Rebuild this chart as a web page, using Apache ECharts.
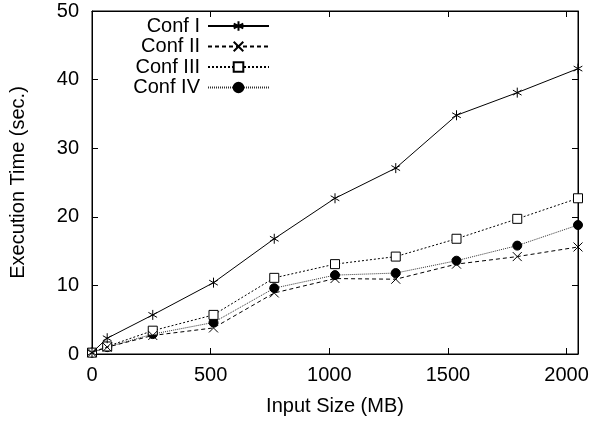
<!DOCTYPE html>
<html>
<head>
<meta charset="utf-8">
<script src="https://cdn.jsdelivr.net/npm/echarts@6/dist/echarts.min.js"></script>
<style>
html,body{margin:0;padding:0;background:#fff;}
#chart{width:592px;height:423px;}
</style>
</head>
<body>
<div id="chart"></div>
<script>
const inputSizes = [0, 64, 256, 512, 768, 1024, 1280, 1536, 1792, 2048];
const seriesNames = ['Conf I', 'Conf II', 'Conf III', 'Conf IV'];
const confI   = [0.2, 2.3, 5.7, 10.4, 16.8, 22.7, 27.1, 34.8, 38.1, 41.6];
const confII  = [0.2, 1.0, 2.7, 3.8, 8.9, 11.0, 10.9, 13.1, 14.2, 15.6];
const confIII = [0.2, 1.1, 3.4, 5.7, 11.1, 13.1, 14.2, 16.8, 19.7, 22.7];
const confIV  = [0.2, 1.0, 2.9, 4.6, 9.6, 11.5, 11.8, 13.6, 15.8, 18.8];
const xTicks = [0, 500, 1000, 1500, 2000];
const yTicks = [0, 10, 20, 30, 40, 50];

const FONT = "'Liberation Sans', Arial, Helvetica, sans-serif";
const pair = (vals) => inputSizes.map((x, i) => [x, vals[i]]);

const ASTERISK = 'path://M0,-5L0,5M-4.33,-2.5L4.33,2.5M-4.33,2.5L4.33,-2.5';
const CROSS = 'path://M-5,-5L5,5M-5,5L5,-5';

const styles = [
  {symbol: ASTERISK, size: 10, line: 'solid', lw: 1, fill: 'none'},
  {symbol: CROSS, size: 9, line: [4, 3], lw: 1, fill: 'none'},
  {symbol: 'rect', size: 9, line: [2, 2], lw: 1, fill: '#fff'},
  {symbol: 'circle', size: 9, line: [1, 1], lw: 1, fill: '#000'}
];
const values = [confI, confII, confIII, confIV];

const series = seriesNames.map((name, i) => ({
  name: name,
  type: 'line',
  xAxisIndex: 0,
  yAxisIndex: 0,
  data: pair(values[i]),
  symbol: styles[i].symbol,
  symbolSize: styles[i].size,
  symbolKeepAspect: true,
  showAllSymbol: true,
  animation: false,
  lineStyle: {color: i === 3 ? '#333' : '#000', width: styles[i].lw, type: styles[i].line},
  itemStyle: {color: styles[i].fill, borderColor: '#000', borderWidth: 1, opacity: 1},
  emphasis: {disabled: true},
  z: 10 - i
}));

const rowCenters = [26, 46.5, 67, 87.5];
const legends = seriesNames.map((name, i) => ({
  data: [name],
  orient: 'horizontal',
  align: 'right',
  right: 322,
  top: rowCenters[i] - 10,
  padding: 0,
  itemWidth: 61,
  itemHeight: 12,
  selectedMode: false,
  textStyle: {fontFamily: FONT, fontSize: 20, color: '#000', lineHeight: 20, padding: [0, 3, 0, 0]}
}));

const xLabel = (v) => (xTicks.indexOf(v) >= 0 ? String(v) : '');
const yLabel = (v) => (yTicks.indexOf(v) >= 0 ? String(v) : '');

const tickStyle = {show: true, inside: true, length: 6, lineStyle: {color: '#000', width: 1}};
const lineStyleAxis = {show: true, onZero: false, lineStyle: {color: '#000', width: 1}};

const chart = echarts.init(document.getElementById('chart'), null, {renderer: 'canvas'});
chart.setOption({
  backgroundColor: '#fff',
  animation: false,
  textStyle: {fontFamily: FONT},
  legend: legends,
  grid: {left: 91, right: 14, top: 11, bottom: 69, containLabel: false, show: true, borderColor: '#000', borderWidth: 1, backgroundColor: 'transparent'},
  xAxis: [
    {
      type: 'value', min: 0, max: 2048, interval: 500, position: 'bottom',
      name: 'Input Size (MB)', nameLocation: 'middle', nameGap: 42,
      nameTextStyle: {fontFamily: FONT, fontSize: 20, color: '#000'},
      axisLine: lineStyleAxis,
      axisTick: tickStyle,
      axisLabel: {show: true, margin: 11, fontFamily: FONT, fontSize: 20, color: '#000', formatter: xLabel, showMaxLabel: false},
      splitLine: {show: false}
    },
    {
      type: 'value', min: 0, max: 2048, interval: 500, position: 'top',
      axisLine: lineStyleAxis,
      axisTick: tickStyle,
      axisLabel: {show: false},
      splitLine: {show: false}
    }
  ],
  yAxis: [
    {
      type: 'value', min: 0, max: 50, interval: 10, position: 'left',
      name: 'Execution Time (sec.)', nameLocation: 'middle', nameGap: 64, nameRotate: 90,
      nameTextStyle: {fontFamily: FONT, fontSize: 20, color: '#000'},
      axisLine: lineStyleAxis,
      axisTick: tickStyle,
      axisLabel: {show: true, margin: 13, fontFamily: FONT, fontSize: 20, color: '#000', formatter: yLabel},
      splitLine: {show: false}
    },
    {
      type: 'value', min: 0, max: 50, interval: 10, position: 'right',
      axisLine: lineStyleAxis,
      axisTick: tickStyle,
      axisLabel: {show: false},
      splitLine: {show: false}
    }
  ],
  series: series
});
</script>
</body>
</html>
